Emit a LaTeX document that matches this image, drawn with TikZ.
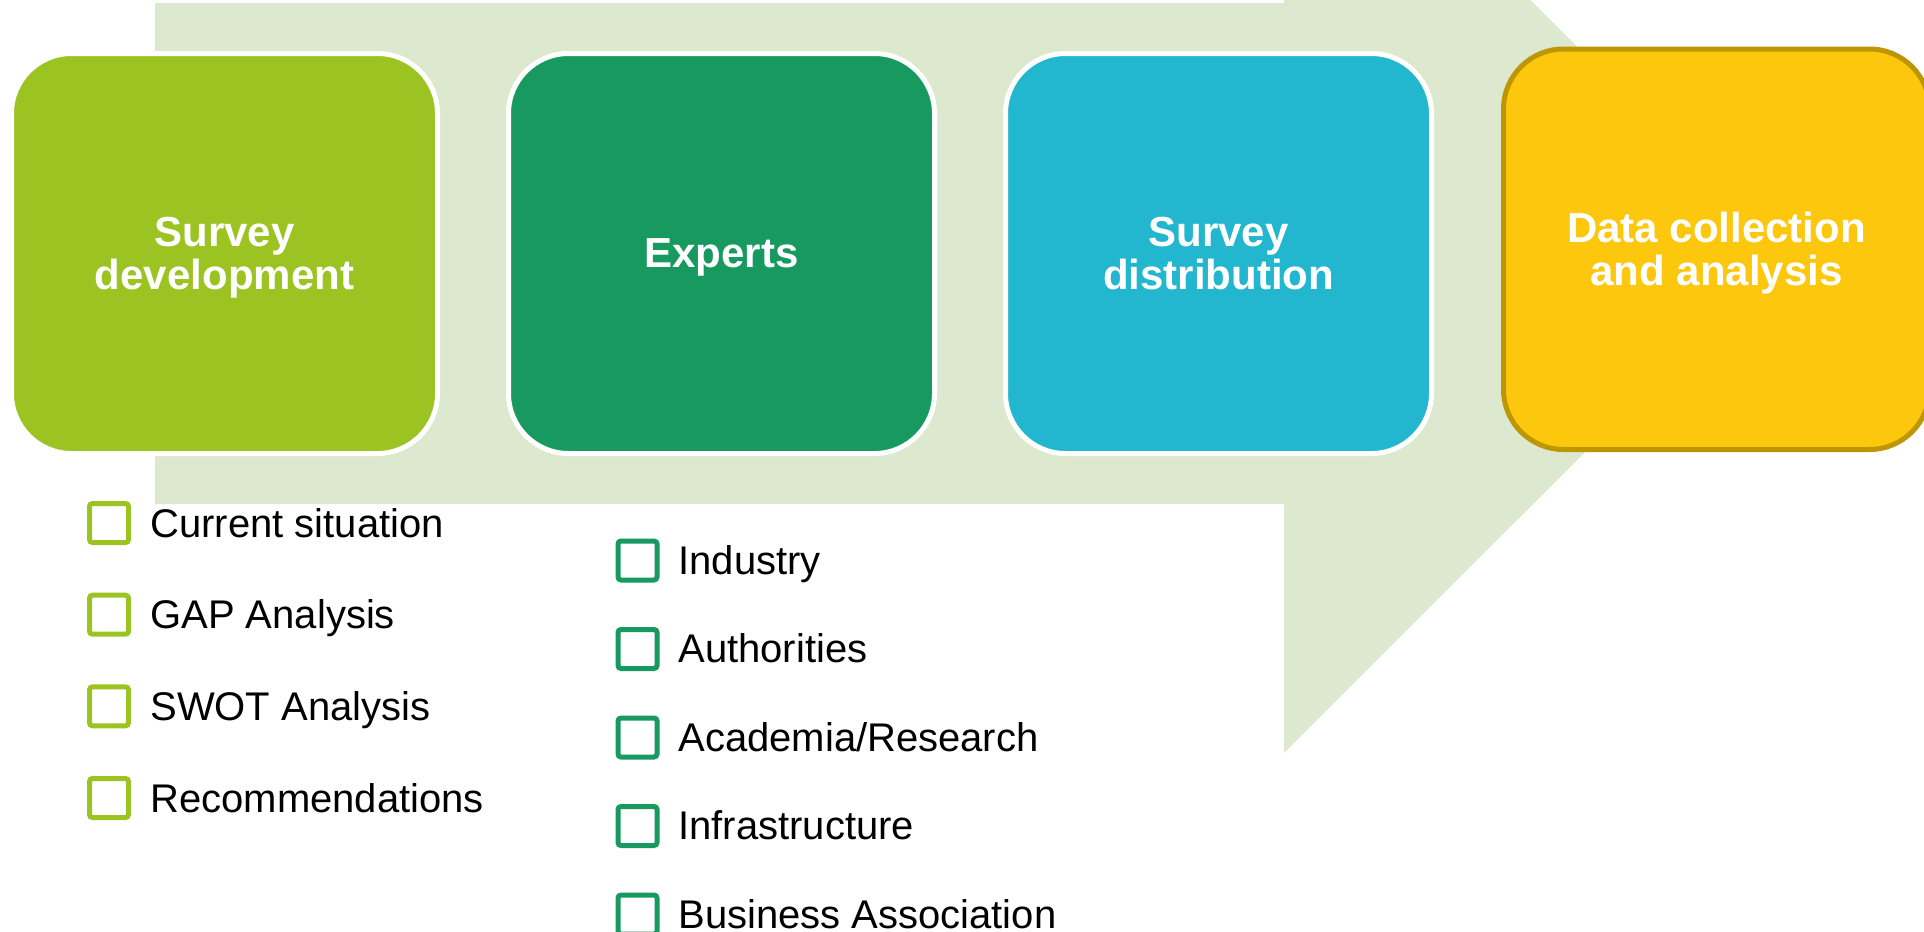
\documentclass[tikz,border=0pt]{standalone}
\usepackage{fontspec}
\setmainfont{Liberation Sans}
\definecolor{arrowbg}{RGB}{221,233,206}
\definecolor{cone}{RGB}{155,196,35}
\definecolor{ctwo}{RGB}{23,153,95}
\definecolor{cthree}{RGB}{35,182,207}
\definecolor{cfour}{RGB}{252,199,12}
\definecolor{cfourline}{RGB}{190,150,4}
\begin{document}
\begin{tikzpicture}[x=0.5pt,y=-0.5pt,
  stage/.style={rectangle, draw=white, line width=2.5pt, rounded corners=30pt,
    minimum width=213pt, minimum height=200pt, inner sep=0pt, align=center,
    text depth=0pt,
    text=white, font=\fontsize{21}{21.5}\selectfont\bfseries},
  checkbox/.style={rectangle, draw=#1, line width=2.5pt, rounded corners=1.5pt,
    minimum size=19.5pt, inner sep=0pt},
  itemtext/.style={anchor=base west, inner sep=0pt, text=black,
    font=\fontsize{20}{24}\selectfont}]
\useasboundingbox (0,0) rectangle (1924,932);
\clip (0,0) rectangle (1924,932);
% big background arrow
\fill[arrowbg] (155,3) -- (1284,3) -- (1284,-246) -- (1784,253.5) -- (1284,753)
  -- (1284,504) -- (155,504) -- cycle;
% stages
\node[stage, fill=cone] (s1) at (224.5,253.5) {Survey\\development};
\node[stage, fill=ctwo] (s2) at (721.5,253.5) {Experts};
\node[stage, fill=cthree] (s3) at (1218.5,253.5) {Survey\\distribution};
\node[stage, fill=cfour, draw=cfourline, minimum height=200.25pt] (s4) at (1716.5,249.25) {Data collection\\and analysis};
% first list
\foreach \t [count=\i from 0] in {Current situation, GAP Analysis, SWOT Analysis, Recommendations}{
  \node[checkbox=cone] (ca\i) at (109,{523+91.67*\i}) {};
  \node[itemtext] (ta\i) at (150,{537+91.67*\i}) {\t};
}
% second list
\foreach \t [count=\i from 0] in {Industry, Authorities, Academia/Research, Infrastructure, Business Association}{
  \node[checkbox=ctwo] (cb\i) at (637.5,{560.5+88.5*\i}) {};
  \node[itemtext] (tb\i) at (678,{574+88.5*\i}) {\t};
}
\end{tikzpicture}
\end{document}
